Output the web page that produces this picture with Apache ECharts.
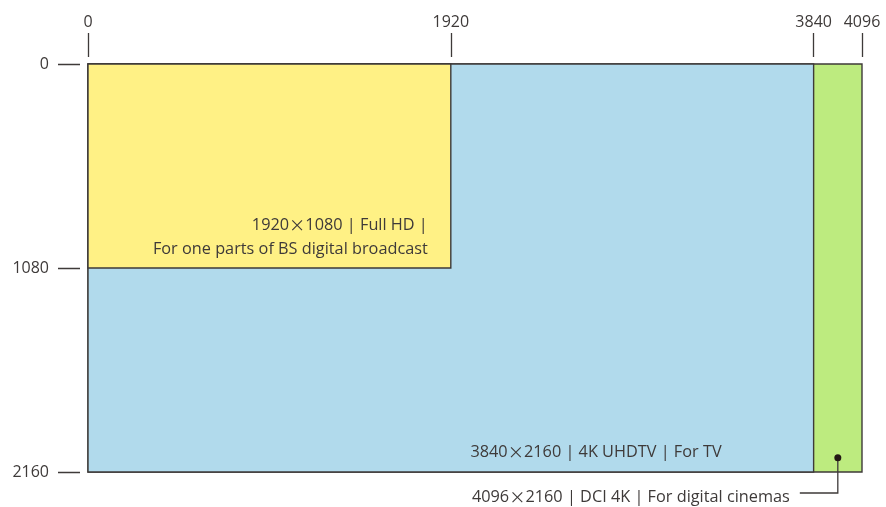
<!DOCTYPE html>
<html>
<head>
<meta charset="utf-8">
<script src="https://cdn.jsdelivr.net/npm/echarts@6/dist/echarts.min.js"></script>
<style>
  html, body { margin: 0; padding: 0; background: #fff; }
  #chart { width: 886px; height: 507px; }
</style>
</head>
<body>
<div id="chart"></div>
<script>
// resolutions drawn back to front: [width, height]
const names = ['DCI 4K', '4K UHDTV', 'Full HD'];
const widths = [4096, 3840, 1920];
const heights = [2160, 2160, 1080];
const xTicks = [0, 1920, 3840, 4096];
const yTicks = [0, 1080, 2160];

const fills = ['#bdeb7f', '#b1daec', '#fff185'];
const ink = '#3e3a39';
const font = '"Open Sans", "Noto Sans", sans-serif';
const fontSize = 16.3;

const chart = echarts.init(document.getElementById('chart'));

// rich text so the multiplication sign uses the wide CJK glyph
const rich = {
    t: { fontFamily: font, fontSize: fontSize, fill: ink, lineHeight: 24 },
    x: { fontFamily: '"Noto Sans CJK JP", sans-serif', fontSize: fontSize, fill: ink, lineHeight: 24 }
};
const label = (s) => s.split('\n').map(l => l.split('×').map(p => p ? '{t|' + p + '}' : '').join('{x|×}')).join('\n');

const renderItem = (params, api) => {
    const i = params.dataIndex;
    const p0 = api.coord([0, 0]);
    const p1 = api.coord([api.value(0), api.value(1)]);
    const children = [{
        type: 'rect',
        shape: { x: p0[0], y: p0[1], width: p1[0] - p0[0], height: p1[1] - p0[1] },
        style: { fill: fills[i], stroke: ink, lineWidth: 1.4 }
    }];
    if (i === 2) {
        children.push({
            type: 'text',
            style: {
                x: p1[0] - 23, y: p1[1] - 7,
                text: label('1920×1080 | Full HD |\nFor one parts of BS digital broadcast'),
                rich: rich, align: 'right', verticalAlign: 'bottom'
            }
        });
    } else if (i === 1) {
        children.push({
            type: 'text',
            style: {
                x: p1[0] - 92, y: p1[1] - 20,
                text: label('3840×2160 | 4K UHDTV | For TV'),
                rich: rich, align: 'right', verticalAlign: 'middle'
            }
        });
    } else {
        // leader from a dot in the middle of the strip
        const dot = api.coord([(widths[1] + widths[0]) / 2, 2085]);
        children.push({
            type: 'polyline',
            shape: { points: [[dot[0], dot[1]], [dot[0], p1[1] + 21], [dot[0] - 38, p1[1] + 21]] },
            style: { stroke: ink, lineWidth: 1.3, fill: null }
        }, {
            type: 'circle',
            shape: { cx: dot[0], cy: dot[1], r: 3.5 },
            style: { fill: '#231815' }
        }, {
            type: 'text',
            style: {
                x: dot[0] - 48, y: p1[1] + 25,
                text: label('4096×2160 | DCI 4K | For digital cinemas'),
                rich: rich, align: 'right', verticalAlign: 'middle'
            }
        });
    }
    return { type: 'group', children: children };
};

// ticks stand off the plot: a gap first, then the visible stroke
const option = {
    animation: false,
    grid: { left: 88, top: 64, right: 24, bottom: 35, containLabel: false },
    xAxis: {
        type: 'value', position: 'top', min: 0, max: 4096,
        splitLine: { show: false },
        axisLine: { show: false },
        axisTick: { show: true, length: 31, customValues: xTicks, lineStyle: { color: ink, width: 1.3, type: [0, 7, 24, 60] } },
        axisLabel: { customValues: xTicks, margin: 34, color: ink, fontSize: 16, fontFamily: font, formatter: v => String(v) }
    },
    yAxis: {
        type: 'value', inverse: true, min: 0, max: 2160,
        splitLine: { show: false },
        axisLine: { show: false },
        axisTick: { show: true, length: 30, customValues: yTicks, lineStyle: { color: ink, width: 1.3, type: [0, 8, 22, 60] } },
        axisLabel: { customValues: yTicks, margin: 39, color: ink, fontSize: 16, fontFamily: font, formatter: v => String(v) }
    },
    series: [{
        type: 'custom',
        clip: false,
        renderItem: renderItem,
        data: names.map((n, i) => ({ name: n, value: [widths[i], heights[i]] }))
    }]
};

chart.setOption(option);
</script>
</body>
</html>
